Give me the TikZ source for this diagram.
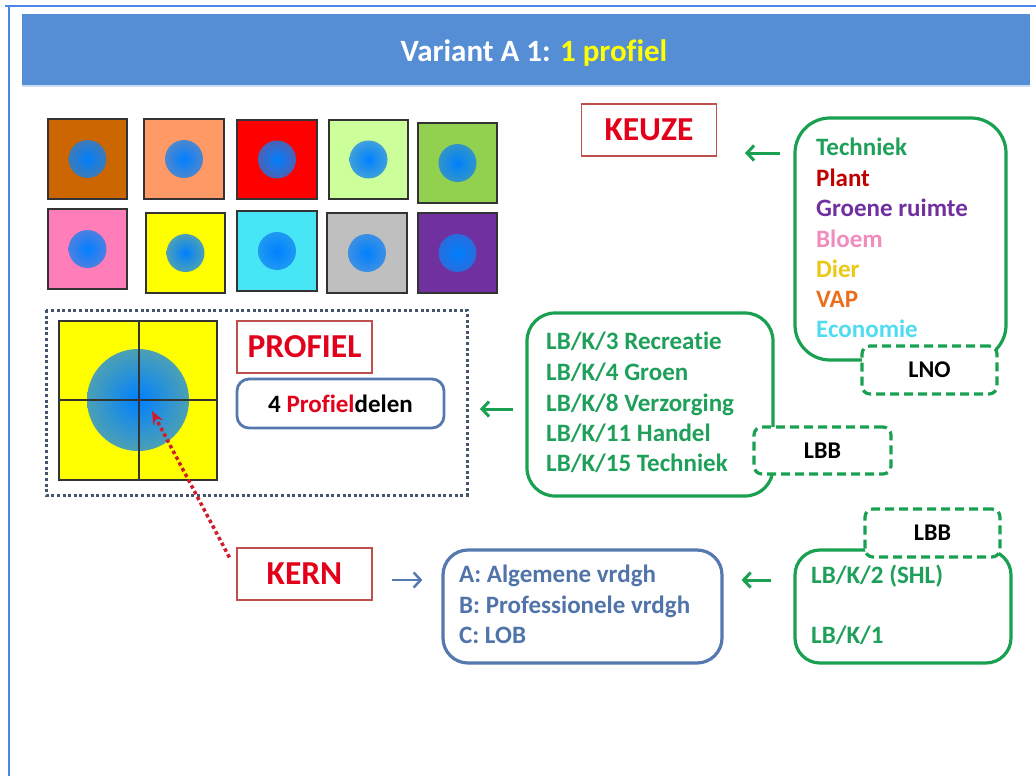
\documentclass[tikz,border=0pt]{standalone}
\usepackage{fontspec}
\setmainfont{Carlito}[Ligatures=NoCommon]
\usetikzlibrary{arrows.meta}
\definecolor{frameblue}{RGB}{74,134,232}
\definecolor{headblue}{RGB}{85,142,213}
\definecolor{headline}{RGB}{205,220,240}
\definecolor{boxgreen}{RGB}{25,160,80}
\definecolor{txtgreen}{RGB}{30,160,90}
\definecolor{labred}{RGB}{192,80,77}
\definecolor{txtred}{RGB}{226,0,26}
\definecolor{boxblue}{RGB}{85,120,175}
\definecolor{txtblue}{RGB}{80,115,170}
\definecolor{dotgray}{RGB}{68,84,106}
\definecolor{edgeblue}{RGB}{50,130,210}
\definecolor{ballcore}{RGB}{0,128,255}
\definecolor{titleyellow}{RGB}{255,255,0}
\definecolor{arrowred}{RGB}{205,30,45}
\definecolor{cplant}{RGB}{192,0,0}
\definecolor{cgroen}{RGB}{112,48,160}
\definecolor{cbloem}{RGB}{240,140,190}
\definecolor{cdier}{RGB}{235,200,20}
\definecolor{cvap}{RGB}{235,110,30}
\definecolor{ceco}{RGB}{80,220,240}
\definecolor{sqa}{RGB}{204,102,0}
\definecolor{sqb}{RGB}{255,153,102}
\definecolor{sqc}{RGB}{255,0,0}
\definecolor{sqd}{RGB}{204,255,153}
\definecolor{sqe}{RGB}{146,208,80}
\definecolor{sqf}{RGB}{255,125,185}
\definecolor{sqg}{RGB}{255,255,0}
\definecolor{sqh}{RGB}{70,230,246}
\definecolor{sqi}{RGB}{191,191,191}
\definecolor{sqj}{RGB}{112,48,160}
\tikzset{
  sqframe/.style={draw=black!80, line width=1.3pt},
  crossline/.style={draw=black!80, line width=1.2pt},
  gbox/.style={draw=boxgreen, line width=3.2pt, fill=white, inner sep=0pt},
  bbox/.style={draw=boxblue, line width=3.2pt, fill=white, inner sep=0pt},
  dbox/.style={draw=boxgreen, line width=3.2pt, dash pattern=on 9pt off 5pt, rounded corners=8pt, fill=white, inner sep=0pt, minimum width=135pt, minimum height=48pt, font=\fontsize{24}{28}\selectfont\bfseries, text=black},
  lab/.style={draw=labred, line width=1.2pt, fill=white, minimum width=135pt, minimum height=52pt, inner sep=0pt, text=txtred, font=\fontsize{33.5}{38}\selectfont\bfseries},
  gtext/.style={anchor=base west, inner sep=0pt, text=txtgreen, font=\fontsize{25}{29}\selectfont\bfseries},
  btext/.style={anchor=base west, inner sep=0pt, text=txtblue, font=\fontsize{25}{29}\selectfont\bfseries},
  garrow/.style={draw=boxgreen, line width=3pt, -{Straight Barb[length=7pt,width=15pt]}},
  barrow/.style={draw=boxblue, line width=2.5pt, -{Straight Barb[length=7pt,width=15pt]}},
  rarrow/.style={draw=arrowred, line width=3.5pt, dash pattern=on 3.5pt off 3pt, -{Stealth[length=13pt,width=11pt]}}
}
\newcommand{\myball}[4]{% x y radius background
  \begin{scope}
    \clip ({#1},{#2}) circle[radius=#3];
    \shade[inner color=ballcore, outer color=edgeblue!50!#4] ({#1},{#2}) circle[radius=2*#3];
  \end{scope}}
\begin{document}
\begin{tikzpicture}[x=1pt,y=-1pt]
\useasboundingbox (0,0) rectangle (1036,776);
\fill[white] (0,0) rectangle (1036,776);
% frame
\draw[frameblue, line width=2.5pt] (5,6) -- (1036,6);
\draw[frameblue, line width=2.5pt] (9,6) -- (9,776);
% header
\node[fill=headblue, minimum width=1008pt, minimum height=71pt, inner sep=0pt] (header) at (526,49.5) {};
\node[text=white, font=\fontsize{31}{35}\selectfont\bfseries, inner sep=0pt] (title) at (534,53) {Variant A 1: \textcolor{titleyellow}{1 profiel}};
\draw[headline, line width=2pt] (22,86) -- (1030,86);
% coloured squares
\foreach \xa/\ya/\xb/\yb/\c in {48/119/127/199/sqa, 144/119/224/199/sqb, 237/120/317/199/sqc, 329/120/408/199/sqd, 418/123/497/203/sqe, 48/209/127/289/sqf, 146/213/225/293/sqg, 237/211/317/291/sqh, 327/213/407/293/sqi, 418/213/497/293/sqj}{
  \draw[sqframe, fill=\c] (\xa,\ya) rectangle (\xb,\yb);
  \myball{(\xa+\xb)/2}{(\ya+\yb)/2}{19}{\c}
}
% profiel area
\draw[dotgray, line width=3pt, dash pattern=on 3pt off 2.6pt] (46,310) rectangle (467,495);
\coordinate (dotbox) at (467,409);
\draw[sqframe, fill=sqg] (59,321) rectangle (217,480);
\myball{138}{400}{51}{sqg}
\coordinate (bigball) at (138,400);
\draw[crossline] (139,321) -- (139,480);
\draw[crossline] (59,400) -- (217,400);
\node[lab] (profiel) at (304.5,347) {PROFIEL};
\node[draw=boxblue, line width=2.8pt, rounded corners=12pt, minimum width=207pt, minimum height=49pt, inner sep=0pt, font=\fontsize{25}{29}\selectfont\bfseries] (pd) at (340.5,403.5) {4 \textcolor{txtred}{Profiel}delen};
% keuze
\node[lab] (keuze) at (649,130) {KEUZE};
\node[gbox, rounded corners=35pt, minimum width=211pt, minimum height=242pt] (tech) at (900.5,239) {};
\node[gtext] (k1) at (816,155) {Techniek};
\node[gtext, text=cplant] (k2) at (816,186) {Plant};
\node[gtext, text=cgroen] (k3) at (816,216) {Groene ruimte};
\node[gtext, text=cbloem] (k4) at (816,247) {Bloem};
\node[gtext, text=cdier] (k5) at (816,277) {Dier};
\node[gtext, text=cvap] (k6) at (816,307) {VAP};
\node[gtext, text=ceco] (k7) at (816,337) {Economie};
\node[dbox] (lno) at (929.5,370) {LNO};
% LB/K box
\node[gbox, rounded corners=28pt, minimum width=246pt, minimum height=183pt] (lbk) at (650,404.5) {};
\node[gtext] (l1) at (546,349) {LB/K/3 Recreatie};
\node[gtext] (l2) at (546,380) {LB/K/4 Groen};
\node[gtext] (l3) at (546,411) {LB/K/8 Verzorging};
\node[gtext] (l4) at (546,441) {LB/K/11 Handel};
\node[gtext] (l5) at (546,471) {LB/K/15 Techniek};
\node[dbox, minimum width=137pt, minimum height=47pt] (lbb1) at (822.5,450.5) {LBB};
% kern
\node[lab] (kern) at (304.5,574) {KERN};
\node[bbox, rounded corners=25pt, minimum width=279pt, minimum height=113pt] (abc) at (582.5,606.5) {};
\node[btext] (a1) at (459,582) {A: Algemene vrdgh};
\node[btext] (a2) at (459,613) {B: Professionele vrdgh};
\node[btext] (a3) at (459,643) {C: LOB};
\node[gbox, rounded corners=25pt, minimum width=216pt, minimum height=113pt] (lbk2) at (903,606.5) {};
\node[gtext] (m1) at (811,583) {LB/K/2 (SHL)};
\node[gtext] (m2) at (811,643) {LB/K/1};
\node[dbox] (lbb2) at (932.5,533) {LBB};
% arrows
\coordinate (ka) at (780,153);
\coordinate (kb) at (745,153);
\draw[garrow] (ka) -- (kb);
\draw[garrow, shorten <=12pt, shorten >=13pt] (lbk.west |- dotbox) -- (dotbox);
\draw[barrow, shorten <=19pt, shorten >=19pt] (kern.east |- 0,580) -- (abc.west |- 0,580);
\draw[garrow, shorten <=22pt, shorten >=18pt] (lbk2.west |- 0,580) -- (abc.east |- 0,580);
\draw[rarrow] ([shift={(-7,10)}]kern.north west) -- ([shift={(14,11)}]bigball);
\end{tikzpicture}
\end{document}
